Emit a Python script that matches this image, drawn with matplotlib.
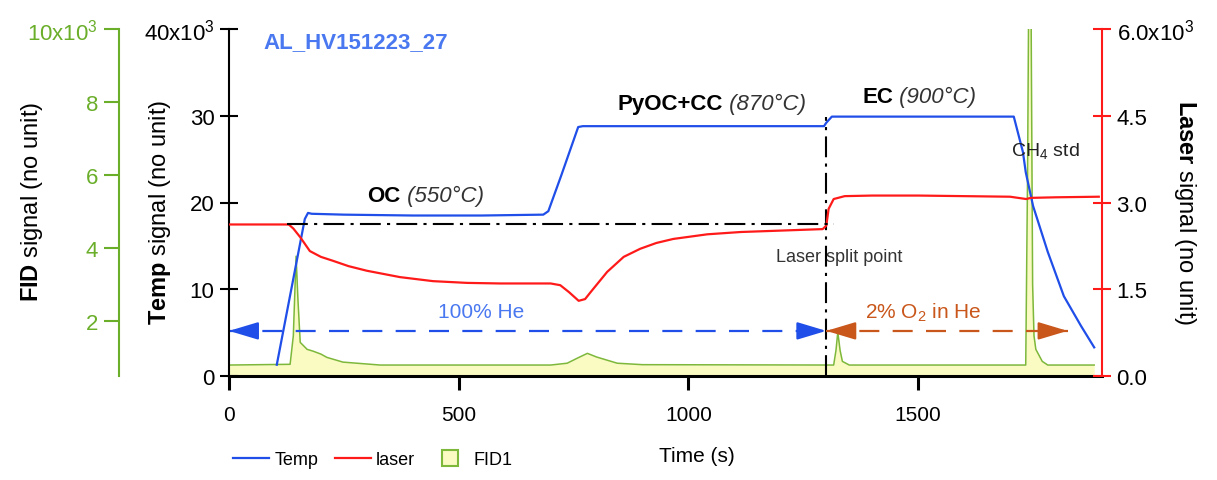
import matplotlib
matplotlib.use("Agg")
import matplotlib.pyplot as plt
from matplotlib.lines import Line2D

plt.rcParams['font.family'] = ['Liberation Sans', 'DejaVu Sans']
plt.rcParams['mathtext.fontset'] = 'custom'
plt.rcParams['mathtext.rm'] = 'Liberation Sans'
plt.rcParams['mathtext.it'] = 'Liberation Sans:italic'
plt.rcParams['mathtext.bf'] = 'Liberation Sans:bold'

# ---- data (signals in units of 10^3) ----
temp_t = [104, 165, 172, 180, 250, 400, 550, 684, 695, 723, 760, 770, 900, 1100,
          1295, 1300, 1312, 1500, 1708, 1728, 1734, 1750, 1782, 1817, 1854, 1883]
temp_v = [1.3, 18.1, 18.8, 18.7, 18.6, 18.5, 18.5, 18.6, 19.0, 23.1, 28.7, 28.8, 28.8, 28.8,
          28.8, 29.2, 29.9, 29.9, 29.9, 25.8, 23.5, 19.6, 14.3, 9.2, 5.8, 3.3]

laser_t = [0, 130, 140, 155, 176, 200, 227, 260, 300, 372, 444, 518, 590, 678, 700, 721,
           740, 761, 775, 787, 823, 859, 895, 930, 967, 1041, 1114, 1186, 1292, 1300,
           1305, 1316, 1340, 1400, 1500, 1600, 1700, 1735, 1745, 1800, 1893]
laser_v = [2.62, 2.62, 2.55, 2.40, 2.16, 2.06, 1.99, 1.90, 1.82, 1.71, 1.64, 1.61, 1.60, 1.60,
           1.60, 1.57, 1.45, 1.30, 1.33, 1.45, 1.80, 2.06, 2.20, 2.30, 2.37, 2.45, 2.49, 2.51,
           2.54, 2.60, 2.89, 3.06, 3.11, 3.12, 3.12, 3.11, 3.10, 3.06, 3.08, 3.09, 3.10]

fid_t = [0, 133, 140, 146, 150, 155, 170, 183, 200, 213, 248, 329, 700, 736, 760, 780, 800,
         845, 900, 1316, 1321, 1325, 1330, 1335, 1350, 1734, 1738, 1741, 1745, 1749, 1752,
         1756, 1770, 1782, 1883]
fid_v = [0.80, 0.82, 1.6, 3.78, 2.6, 1.42, 1.23, 1.18, 1.10, 1.01, 0.88, 0.80, 0.80, 0.85, 1.0,
         1.12, 1.02, 0.85, 0.81, 0.80, 1.2, 1.7, 1.2, 0.9, 0.80, 0.80, 6.0, 12.0, 12.0, 3.0,
         1.6, 1.23, 0.9, 0.80, 0.80]

x_ticks = [0, 500, 1000, 1500]
temp_ticks = [0, 10, 20, 30, 40]
temp_ticklabels = ['0', '10', '20', '30', '40x10$^{3}$']
laser_ticks = [0, 1.5, 3.0, 4.5, 6.0]
laser_ticklabels = ['0.0', '1.5', '3.0', '4.5', '6.0x10$^{3}$']
fid_ticks = [2, 4, 6, 8, 10]
fid_ticklabels = ['2', '4', '6', '8', '10x10$^{3}$']

split_time = 1300
laser_split_level = 2.62
gas_arrow_level = 5.2

# stage labels: (time of left edge, temp level, bold name, italic temperature)
stages = [(301, 20.8, 'OC', ' (550°C)'),
          (845, 31.4, 'PyOC+CC', ' (870°C)'),
          (1379, 32.2, 'EC', ' (900°C)')]

# ---- colours ----
c_temp = '#1F4EE8'
c_laser = '#FF1A1A'
c_fid_line = '#7DB83A'
c_fid_fill = '#FAFAC3'
c_fid_axis = '#6AAE2A'
c_label_blue = '#4A78F0'
c_orange = '#C9561A'

fig = plt.figure(figsize=(12.17, 4.81), dpi=100)
ax = fig.add_axes([229 / 1217, 1 - 377 / 481, 873 / 1217, 347 / 481])
ax_fid = ax.twinx()
ax_laser = ax.twinx()

ax_fid.set_zorder(0)
ax.set_zorder(1)
ax_laser.set_zorder(2)
ax.patch.set_visible(False)
ax_laser.patch.set_visible(False)

# FID trace (filled)
fid_bottom = 0.5
ax_fid.fill_between(fid_t, fid_bottom, fid_v, color=c_fid_fill, lw=0)
ax_fid.plot(fid_t, fid_v, color=c_fid_line, lw=1.1)
ax_fid.set_ylim(fid_bottom, 10)

# Temperature
ax.plot(temp_t, temp_v, color=c_temp, lw=1.6)
ax.set_xlim(0, 1900)
ax.set_ylim(0, 40)

# Laser
ax_laser.plot(laser_t, laser_v, color=c_laser, lw=1.6)
ax_laser.set_ylim(0, 6)
ax_laser.plot([126, 1316], [laser_split_level, laser_split_level], color='black', lw=1.5,
              dashes=(10, 3, 1.5, 3))

# split point vertical
ax.plot([split_time, split_time], [0, 29.9], color='black', lw=1.5, dashes=(10, 3, 1.5, 3))

# gas arrows
ax.plot([0, split_time], [gas_arrow_level, gas_arrow_level], color=c_temp, lw=1.6, dashes=(9, 6))
ax.plot([split_time, 1825], [gas_arrow_level, gas_arrow_level], color=c_orange, lw=1.6, dashes=(9, 6))
head = '-|>,head_length=1.0,head_width=0.3'
for tip, tail, col in [(0, 60, c_temp), (split_time, split_time - 60, c_temp),
                       (split_time, split_time + 60, c_orange), (1825, 1765, c_orange)]:
    ax.annotate('', xy=(tip, gas_arrow_level), xytext=(tail, gas_arrow_level),
                arrowprops=dict(arrowstyle=head, color=col, lw=1.6, mutation_scale=18,
                                shrinkA=0, shrinkB=0))

# annotations
ax.text(74, 38.5, 'AL_HV151223_27', color=c_label_blue, fontsize=16, fontweight='bold',
        ha='left', va='center')
for t0, lvl, name, temp_txt in stages:
    bold = ax.text(t0, lvl, name, fontsize=16, fontweight='bold', ha='left', va='center')
    ax.annotate(temp_txt, xy=(1, 0.5), xycoords=bold, fontsize=16, style='italic',
                color='#333333', ha='left', va='center')
ax.text(1777, 26.0, r'CH$_4$ std', fontsize=14, color='#222222', ha='center', va='center')
ax.text(1329, 13.8, 'Laser split point', fontsize=13, color='#333333', ha='center', va='center')
ax.text(549, 7.4, '100% He', fontsize=15, color=c_label_blue, ha='center', va='center')
ax.text(1512, 7.4, r'2% O$_2$ in He', fontsize=15, color=c_orange, ha='center', va='center')

# ---- axes styling ----
for a in (ax, ax_fid, ax_laser):
    for s in a.spines.values():
        s.set_visible(False)

ax.spines['left'].set_visible(True)
ax.spines['left'].set_linewidth(1.5)
ax.spines['bottom'].set_visible(True)
ax.spines['bottom'].set_linewidth(2.2)
ax.set_xticks(x_ticks)
ax.set_yticks(temp_ticks)
ax.set_yticklabels(temp_ticklabels)
ax.tick_params(axis='x', direction='out', length=10, width=2.2, labelsize=15, pad=11)
ax.tick_params(axis='y', direction='inout', length=13, width=1.5, labelsize=16, pad=4)
ax.set_xlabel('Time (s)', fontsize=15)
ax.xaxis.set_label_coords(0.536, -0.23)
ax.xaxis.label.set_verticalalignment('center')
ax.set_ylabel(r'$\mathbf{Temp}$ signal (no unit)', fontsize=17)
ax.yaxis.set_label_coords(-0.079, 0.475)
ax.yaxis.label.set_verticalalignment('center')

ax_laser.spines['right'].set_visible(True)
ax_laser.spines['right'].set_color(c_laser)
ax_laser.spines['right'].set_linewidth(1.5)
ax_laser.set_yticks(laser_ticks)
ax_laser.set_yticklabels(laser_ticklabels)
ax_laser.tick_params(axis='y', direction='inout', length=13, width=1.5, color=c_laser,
                     labelcolor='black', labelsize=16, pad=4)
ax_laser.set_ylabel(r'$\mathbf{Laser}$ signal (no unit)', fontsize=17, rotation=270)
ax_laser.yaxis.set_label_coords(1.095, 0.475)
ax_laser.yaxis.label.set_verticalalignment('center')

ax_fid.spines['left'].set_visible(True)
ax_fid.spines['left'].set_position(('outward', 110 * 72 / 100))
ax_fid.spines['left'].set_color(c_fid_axis)
ax_fid.spines['left'].set_linewidth(1.5)
ax_fid.yaxis.set_ticks_position('left')
ax_fid.yaxis.set_label_position('left')
ax_fid.set_yticks(fid_ticks)
ax_fid.set_yticklabels(fid_ticklabels)
ax_fid.tick_params(axis='y', direction='out', length=11, width=1.5, color=c_fid_axis,
                   labelcolor=c_fid_axis, labelsize=16, pad=4)
ax_fid.set_ylabel(r'$\mathbf{FID}$ signal (no unit)', fontsize=17)
ax_fid.yaxis.set_label_coords(-0.2257, 0.504)
ax_fid.yaxis.label.set_verticalalignment('center')

# legend
handles = [Line2D([], [], color=c_temp, lw=1.6),
           Line2D([], [], color=c_laser, lw=1.6),
           Line2D([], [], marker='s', linestyle='none', markersize=11,
                  markerfacecolor=c_fid_fill, markeredgecolor=c_fid_line, markeredgewidth=1.5)]
fig.legend(handles, ['Temp', 'laser', 'FID1'], loc='center left',
           bbox_to_anchor=(233 / 1217, 1 - 461 / 481), bbox_transform=fig.transFigure,
           ncol=3, frameon=False, fontsize=13, handlelength=2.0, handletextpad=0.3,
           columnspacing=0.9, borderpad=0, borderaxespad=0)

fig.savefig('out.png', dpi=100)
